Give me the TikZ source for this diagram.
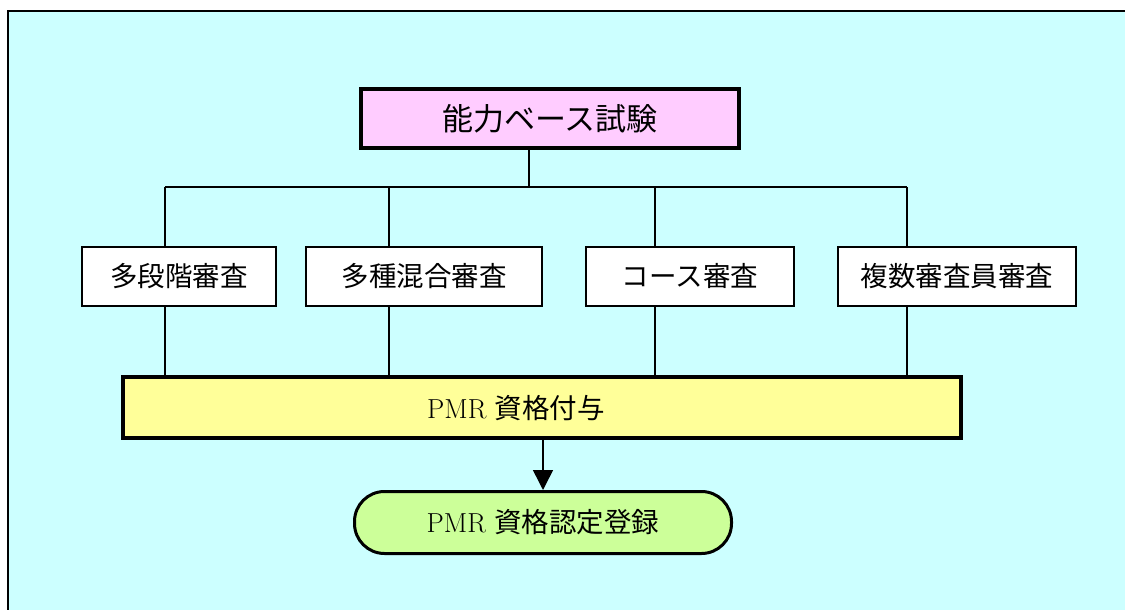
\documentclass[tikz,border=0pt]{standalone}
\usepackage{xcolor}
\usepackage{fontspec}
\usepackage{tikz}
\usetikzlibrary{arrows.meta}
\usetikzlibrary{positioning}
\newfontfamily\jpfont{Noto Sans CJK JP}
\definecolor{bgcyan}{HTML}{CCFFFF}
\definecolor{exampink}{HTML}{FFCCFF}
\definecolor{grantyellow}{HTML}{FFFF99}
\definecolor{entrygreen}{HTML}{CCFF99}
\tikzset{>=latex}
\tikzstyle{exam} = [draw, line width = 4pt, fill = exampink, minimum width = 378, minimum height = 59, inner sep = 0, font = \fontsize{31}{36}\selectfont\jpfont]
\tikzstyle{review} = [draw, line width = 2pt, fill = white, minimum height = 59, inner sep = 0, font = \fontsize{27.5}{32}\selectfont\jpfont]
\tikzstyle{grant} = [draw, line width = 3.5pt, fill = grantyellow, minimum width = 838, minimum height = 61, inner sep = 0]
\tikzstyle{entry} = [draw, line width = 3pt, fill = entrygreen, rounded corners = 30, minimum width = 377, minimum height = 62, inner sep = 0, font = \fontsize{27.5}{32}\selectfont]
\tikzstyle{link} = [-, line width = 1.5pt]

\begin{document}
\begin{tikzpicture}[x = 1pt, y = -1pt]
\useasboundingbox (0, 0) rectangle (1125, 610);
\clip (0, 0) rectangle (1125, 610);
\draw [line width = 2pt, fill = bgcyan] (8, 11) rectangle (1140, 625);

\node [exam]  (E) at (550, 118.5) {能力ベース試験};
\node [review, minimum width = 194]  (R1) at (179, 276.5) {多段階審査};
\node [review, minimum width = 236]  (R2) at (424, 276.5) {多種混合審査};
\node [review, minimum width = 208]  (R3) at (690, 276.5) {コース審査};
\node [review, minimum width = 238]  (R4) at (957, 276.5) {複数審査員審査};
\node [grant]  (P) at (542, 407.5) {};
\node [draw = none, inner sep = 0, font = \fontsize{27.5}{32}\selectfont]  (PL) at (516, 408) {PMR {\jpfont 資格付与}};
\node [entry]  (F) at (543, 522.5) {PMR {\jpfont 資格認定登録}};

% bus from the exam to the four reviews
\coordinate (H) at (529, 187);
\coordinate (B1) at (165, 187);
\coordinate (B2) at (389, 187);
\coordinate (B3) at (655, 187);
\coordinate (B4) at (907, 187);
\draw [link] (E.south -| H) to (H);
\draw [link] (B1) to (B4);
\draw [link] (B1) to (B1 |- R1.north);
\draw [link] (B2) to (B2 |- R2.north);
\draw [link] (B3) to (B3 |- R3.north);
\draw [link] (B4) to (B4 |- R4.north);
\draw [link] (B1 |- R1.south) to (B1 |- P.north);
\draw [link] (B2 |- R2.south) to (B2 |- P.north);
\draw [link] (B3 |- R3.south) to (B3 |- P.north);
\draw [link] (B4 |- R4.south) to (B4 |- P.north);
\draw [-{Triangle[length = 20pt, width = 20pt]}, line width = 1.5pt] (F.north |- P.south) to (F.north);
\end{tikzpicture}
\end{document}
